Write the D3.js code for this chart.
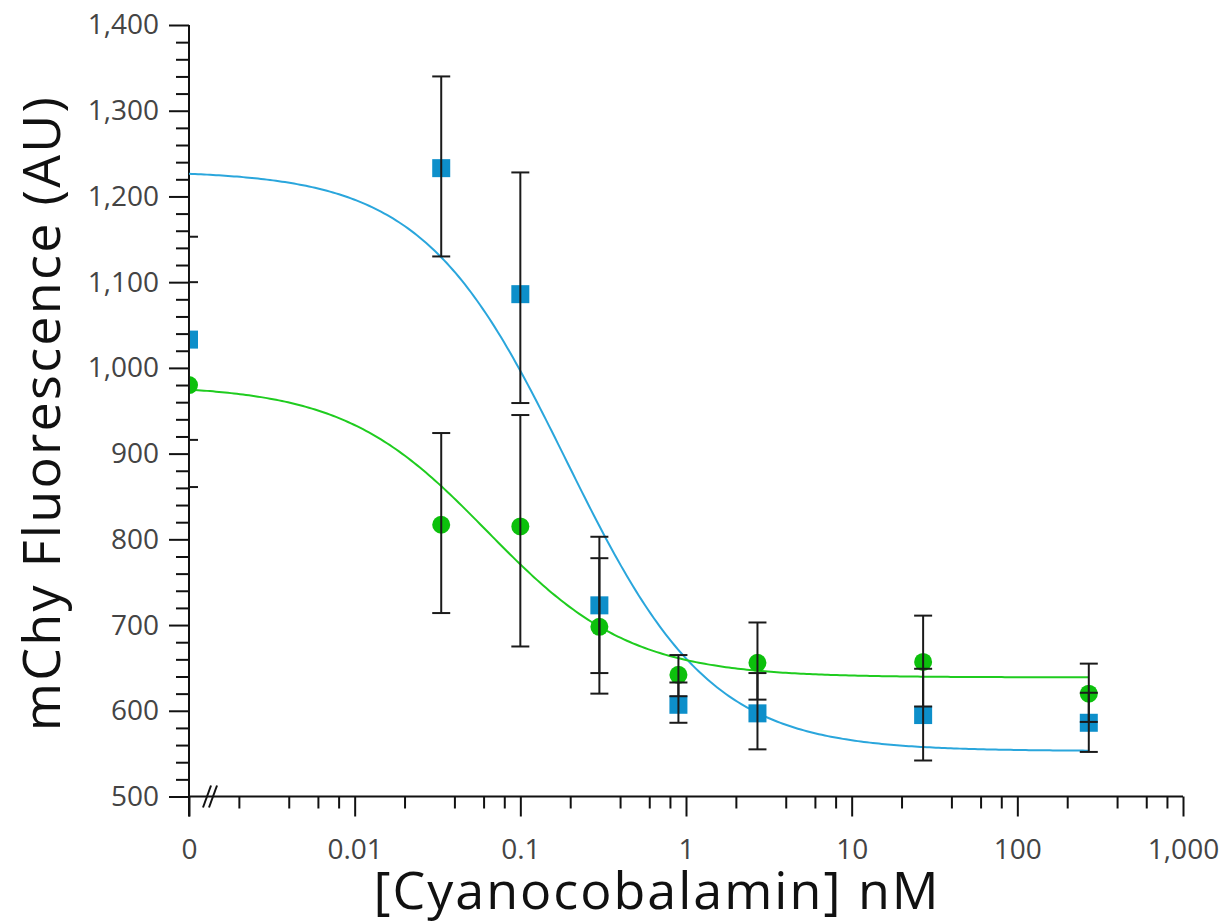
<!DOCTYPE html>
<html>
<head>
<meta charset="utf-8">
<script src="https://cdn.jsdelivr.net/npm/d3@7"></script>
<style>
  html, body { margin: 0; padding: 0; background: #fff; }
  svg { display: block; font-family: "Open Sans", "Noto Sans", sans-serif; }
</style>
</head>
<body>
<svg id="chart" width="1231" height="923"></svg>
<script>
// ---------- data ----------
const concentrations = [0, 0.0333, 0.1, 0.3, 0.9, 2.7, 27, 270];

const blueMean = [1033, 1233, 1086, 723, 607, 597, 595, 586];
const blueLow  = [916, 1130, 959, 644, 586, 555, 542, 552];
const blueHigh = [1153, 1340, 1228, 803, 633, 644, 649, 621];

const greenMean = [980, 817, 815, 698, 642, 656, 657, 620];
const greenLow  = [861, 714, 675, 620, 617, 613, 605, 587];
const greenHigh = [1100, 924, 945, 778, 665, 703, 711, 655];

// four-parameter logistic fits: [top, bottom, EC50, hill]
const blueFit  = [1230, 553, 0.19, 1.0];
const greenFit = [980, 639, 0.063, 1.0];

const xMajorTicks = [0.001, 0.01, 0.1, 1, 10, 100, 1000];
const xMajorLabels = ["0", "0.01", "0.1", "1", "10", "100", "1,000"];
const yMajorTicks = [500, 600, 700, 800, 900, 1000, 1100, 1200, 1300, 1400];

const xTitle = "[Cyanocobalamin] nM";
const yTitle = "mChy Fluorescence (AU)";

// ---------- layout ----------
const svg = d3.select("#chart");
const x = d3.scaleLog().domain([0.001, 1000]).range([189, 1183]);
const y = d3.scaleLinear().domain([500, 1400]).range([796.5, 25]);
const xPos = d => d === 0 ? x(0.001) : x(d);

const blueMark = "#0d8fca", greenMark = "#0cc00c";
const blueLine = "#2aa6dc", greenLine = "#1fcc1f";

// minor ticks
const xMinor = [];
for (let e = -3; e < 3; e++) for (const m of [2, 4, 6, 8]) xMinor.push(m * Math.pow(10, e));
const yMinor = d3.range(520, 1400, 20).filter(v => v % 100 !== 0);

// clip to plot area (right of y axis)
svg.append("defs").append("clipPath").attr("id", "plotclip")
  .append("rect").attr("x", x(0.001)).attr("y", 0).attr("width", 1231).attr("height", 923);

// ---------- axes ----------
const yAxisMinor = svg.append("g").attr("transform", `translate(${x(0.001)},0)`)
  .call(d3.axisLeft(y).tickValues(yMinor).tickSize(13).tickFormat(""));
const yAxis = svg.append("g").attr("transform", `translate(${x(0.001)},0)`)
  .call(d3.axisLeft(y).tickValues(yMajorTicks).tickSize(20).tickPadding(10).tickFormat(d3.format(",")));
const xAxisMinor = svg.append("g").attr("transform", `translate(0,${y(500)})`)
  .call(d3.axisBottom(x).tickValues(xMinor).tickSize(12).tickFormat(""));
const xAxis = svg.append("g").attr("transform", `translate(0,${y(500)})`)
  .call(d3.axisBottom(x).tickValues(xMajorTicks).tickSize(20).tickPadding(23)
        .tickFormat((d, i) => xMajorLabels[i]));

[yAxisMinor, yAxis, xAxisMinor, xAxis].forEach(g => {
  g.select(".domain").remove();
  g.selectAll(".tick line").attr("stroke", "#111").attr("stroke-width", 2);
  g.selectAll("text").attr("fill", "#444").style("font-size", "28px")
    .style("font-family", "\"Open Sans\", \"Noto Sans\", sans-serif");
});

// axis lines
svg.append("line").attr("x1", x(0.001)).attr("x2", x(0.001))
  .attr("y1", y(1400)).attr("y2", y(500) + 20)
  .attr("stroke", "#111").attr("stroke-width", 2);
svg.append("line").attr("x1", x(0.001)).attr("x2", x(1000))
  .attr("y1", y(500)).attr("y2", y(500))
  .attr("stroke", "#111").attr("stroke-width", 2);

// axis break mark "//"
const bx = x(0.001) + 18, by = y(500);
[0, 6].forEach(off => {
  svg.append("line")
    .attr("x1", bx + off - 4).attr("y1", by + 11)
    .attr("x2", bx + off + 4).attr("y2", by - 11)
    .attr("stroke", "#111").attr("stroke-width", 2);
});

// titles
svg.append("text").attr("x", 657).attr("y", 909).attr("text-anchor", "middle")
  .style("font-size", "52px").style("letter-spacing", "2px").attr("fill", "#111").text(xTitle);
svg.append("text").attr("transform", "translate(60,413) rotate(-90)").attr("text-anchor", "middle")
  .style("font-size", "52px").style("letter-spacing", "2.3px").attr("fill", "#111").text(yTitle);

// ---------- fitted curves ----------
const plot = svg.append("g").attr("clip-path", "url(#plotclip)");
function fitCurve(p, xmax) {
  const [top, bottom, ec50, hill] = p;
  const pts = [];
  const l0 = Math.log10(0.001), l1 = Math.log10(xmax);
  for (let i = 0; i <= 300; i++) {
    const xv = Math.pow(10, l0 + (l1 - l0) * i / 300);
    pts.push([xv, bottom + (top - bottom) / (1 + Math.pow(xv / ec50, hill))]);
  }
  return pts;
}
const line = d3.line().x(d => x(d[0])).y(d => y(d[1]));
plot.append("path").attr("d", line(fitCurve(blueFit, 270)))
  .attr("fill", "none").attr("stroke", blueLine).attr("stroke-width", 2);
plot.append("path").attr("d", line(fitCurve(greenFit, 270)))
  .attr("fill", "none").attr("stroke", greenLine).attr("stroke-width", 2);

// ---------- markers ----------
const sq = 18;
plot.selectAll("rect.blue").data(concentrations).enter().append("rect")
  .attr("x", (d) => xPos(d) - sq / 2).attr("y", (d, i) => y(blueMean[i]) - sq / 2)
  .attr("width", sq).attr("height", sq).attr("fill", blueMark);
plot.selectAll("circle.green").data(concentrations).enter().append("circle")
  .attr("cx", d => xPos(d)).attr("cy", (d, i) => y(greenMean[i]))
  .attr("r", 9).attr("fill", greenMark);

// ---------- error bars ----------
function errorBars(lo, hi) {
  const g = plot.append("g").attr("stroke", "#1a1a1a").attr("stroke-width", 2);
  concentrations.forEach((c, i) => {
    const cx = xPos(c);
    g.append("line").attr("x1", cx).attr("x2", cx).attr("y1", y(lo[i])).attr("y2", y(hi[i]));
    g.append("line").attr("x1", cx - 9).attr("x2", cx + 9).attr("y1", y(lo[i])).attr("y2", y(lo[i]));
    g.append("line").attr("x1", cx - 9).attr("x2", cx + 9).attr("y1", y(hi[i])).attr("y2", y(hi[i]));
  });
}
errorBars(blueLow, blueHigh);
errorBars(greenLow, greenHigh);
</script>
</body>
</html>
